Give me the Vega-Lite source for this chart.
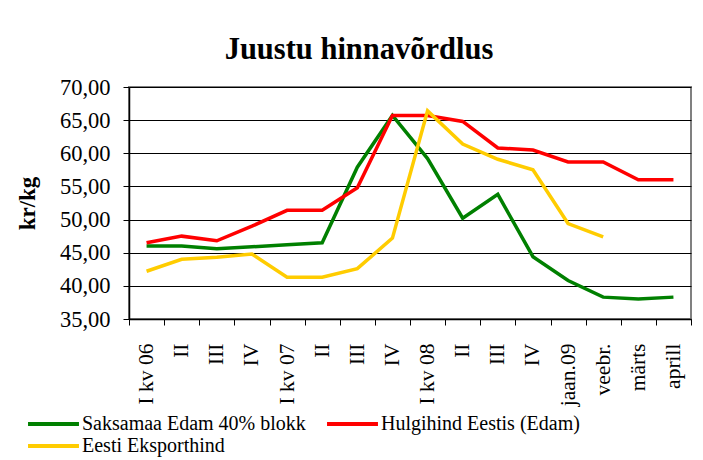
{
  "$schema": "https://vega.github.io/schema/vega-lite/v6.json",
  "width": 562,
  "height": 232,
  "autosize": "none",
  "padding": {"left": 129, "top": 87, "right": 12, "bottom": 142},
  "background": "white",
  "title": {
    "text": "Juustu hinnavõrdlus",
    "font": "Liberation Serif",
    "fontSize": 30.5,
    "fontWeight": "bold",
    "color": "black",
    "anchor": "middle",
    "dx": -51,
    "offset": 11
  },
  "data": {
    "values": [
      {"key": "I kv 06|a", "series": "Saksamaa Edam 40% blokk", "value": 46.0},
      {"key": "II|a", "series": "Saksamaa Edam 40% blokk", "value": 46.0},
      {"key": "III|a", "series": "Saksamaa Edam 40% blokk", "value": 45.6},
      {"key": "IV|a", "series": "Saksamaa Edam 40% blokk", "value": 45.9},
      {"key": "I kv 07|b", "series": "Saksamaa Edam 40% blokk", "value": 46.2},
      {"key": "II|b", "series": "Saksamaa Edam 40% blokk", "value": 46.5},
      {"key": "III|b", "series": "Saksamaa Edam 40% blokk", "value": 57.9},
      {"key": "IV|b", "series": "Saksamaa Edam 40% blokk", "value": 65.7},
      {"key": "I kv 08|c", "series": "Saksamaa Edam 40% blokk", "value": 59.2},
      {"key": "II|c", "series": "Saksamaa Edam 40% blokk", "value": 50.2},
      {"key": "III|c", "series": "Saksamaa Edam 40% blokk", "value": 53.8},
      {"key": "IV|c", "series": "Saksamaa Edam 40% blokk", "value": 44.4},
      {"key": "jaan.09|d", "series": "Saksamaa Edam 40% blokk", "value": 40.8},
      {"key": "veebr.|d", "series": "Saksamaa Edam 40% blokk", "value": 38.3},
      {"key": "märts|d", "series": "Saksamaa Edam 40% blokk", "value": 38.0},
      {"key": "aprill|d", "series": "Saksamaa Edam 40% blokk", "value": 38.3},
      {"key": "I kv 06|a", "series": "Hulgihind Eestis (Edam)", "value": 46.5},
      {"key": "II|a", "series": "Hulgihind Eestis (Edam)", "value": 47.5},
      {"key": "III|a", "series": "Hulgihind Eestis (Edam)", "value": 46.8},
      {"key": "IV|a", "series": "Hulgihind Eestis (Edam)", "value": 49.0},
      {"key": "I kv 07|b", "series": "Hulgihind Eestis (Edam)", "value": 51.4},
      {"key": "II|b", "series": "Hulgihind Eestis (Edam)", "value": 51.4},
      {"key": "III|b", "series": "Hulgihind Eestis (Edam)", "value": 54.8},
      {"key": "IV|b", "series": "Hulgihind Eestis (Edam)", "value": 65.7},
      {"key": "I kv 08|c", "series": "Hulgihind Eestis (Edam)", "value": 65.7},
      {"key": "II|c", "series": "Hulgihind Eestis (Edam)", "value": 64.8},
      {"key": "III|c", "series": "Hulgihind Eestis (Edam)", "value": 60.8},
      {"key": "IV|c", "series": "Hulgihind Eestis (Edam)", "value": 60.5},
      {"key": "jaan.09|d", "series": "Hulgihind Eestis (Edam)", "value": 58.7},
      {"key": "veebr.|d", "series": "Hulgihind Eestis (Edam)", "value": 58.7},
      {"key": "märts|d", "series": "Hulgihind Eestis (Edam)", "value": 56.0},
      {"key": "aprill|d", "series": "Hulgihind Eestis (Edam)", "value": 56.0},
      {"key": "I kv 06|a", "series": "Eesti Eksporthind", "value": 42.2},
      {"key": "II|a", "series": "Eesti Eksporthind", "value": 44.0},
      {"key": "III|a", "series": "Eesti Eksporthind", "value": 44.3},
      {"key": "IV|a", "series": "Eesti Eksporthind", "value": 44.8},
      {"key": "I kv 07|b", "series": "Eesti Eksporthind", "value": 41.3},
      {"key": "II|b", "series": "Eesti Eksporthind", "value": 41.3},
      {"key": "III|b", "series": "Eesti Eksporthind", "value": 42.6},
      {"key": "IV|b", "series": "Eesti Eksporthind", "value": 47.2},
      {"key": "I kv 08|c", "series": "Eesti Eksporthind", "value": 66.4},
      {"key": "II|c", "series": "Eesti Eksporthind", "value": 61.4},
      {"key": "III|c", "series": "Eesti Eksporthind", "value": 59.1},
      {"key": "IV|c", "series": "Eesti Eksporthind", "value": 57.5},
      {"key": "jaan.09|d", "series": "Eesti Eksporthind", "value": 49.4},
      {"key": "veebr.|d", "series": "Eesti Eksporthind", "value": 47.4}
    ]
  },
  "mark": {"type": "line", "strokeWidth": 3.5, "strokeJoin": "miter", "clip": false},
  "encoding": {
    "x": {
      "field": "key",
      "type": "ordinal",
      "sort": null,
      "bandPosition": 0.5,
      "scale": {"type": "band", "paddingInner": 0, "paddingOuter": 0},
      "axis": {
        "title": null,
        "tickBand": "extent",
        "labelExpr": "split(datum.label, '|')[0]",
        "labelAngle": -90,
        "labelAlign": "right",
        "labelBaseline": "middle",
        "labelFont": "Liberation Serif",
        "labelFontSize": 21.5,
        "labelColor": "black",
        "labelPadding": 18,
        "tickSize": 6,
        "tickColor": "black",
        "domainColor": "black",
        "domainWidth": 1.5,
        "grid": false
      }
    },
    "y": {
      "field": "value",
      "type": "quantitative",
      "scale": {"domain": [35, 70], "nice": false, "zero": false},
      "axis": {
        "title": "kr/kg",
        "titleFont": "Liberation Serif",
        "titleFontSize": 23,
        "titleFontWeight": "bold",
        "titleColor": "black",
        "titleX": -102,
        "titleY": 116,
        "titleAlign": "center",
        "titleBaseline": "middle",
        "titleAngle": -90,
        "values": [35, 40, 45, 50, 55, 60, 65, 70],
        "labelExpr": "replace(format(datum.value, '.2f'), '.', ',')",
        "labelFont": "Liberation Serif",
        "labelFontSize": 22.5,
        "labelColor": "black",
        "labelPadding": 13,
        "tickSize": 6,
        "tickColor": "black",
        "domainColor": "black",
        "domainWidth": 1.5,
        "grid": true,
        "gridColor": "black",
        "gridWidth": 1
      }
    },
    "color": {
      "field": "series",
      "type": "nominal",
      "sort": null,
      "scale": {
        "domain": ["Saksamaa Edam 40% blokk", "Hulgihind Eestis (Edam)", "Eesti Eksporthind"],
        "range": ["#008000", "#ff0000", "#ffcc00"]
      },
      "legend": {
        "title": null,
        "orient": "none",
        "direction": "horizontal",
        "columns": 2,
        "legendX": -86.5,
        "legendY": 326,
        "symbolType": "M-2.83,0H2.83",
        "symbolSize": 324,
        "symbolStrokeWidth": 4,
        "labelFont": "Liberation Serif",
        "labelFontSize": 20,
        "labelColor": "black",
        "labelOffset": 17.5,
        "labelLimit": 400,
        "columnPadding": 12,
        "rowPadding": 1
      }
    }
  },
  "config": {
    "view": {"stroke": "#808080", "strokeWidth": 2},
    "axis": {"gridOpacity": 1}
  }
}
